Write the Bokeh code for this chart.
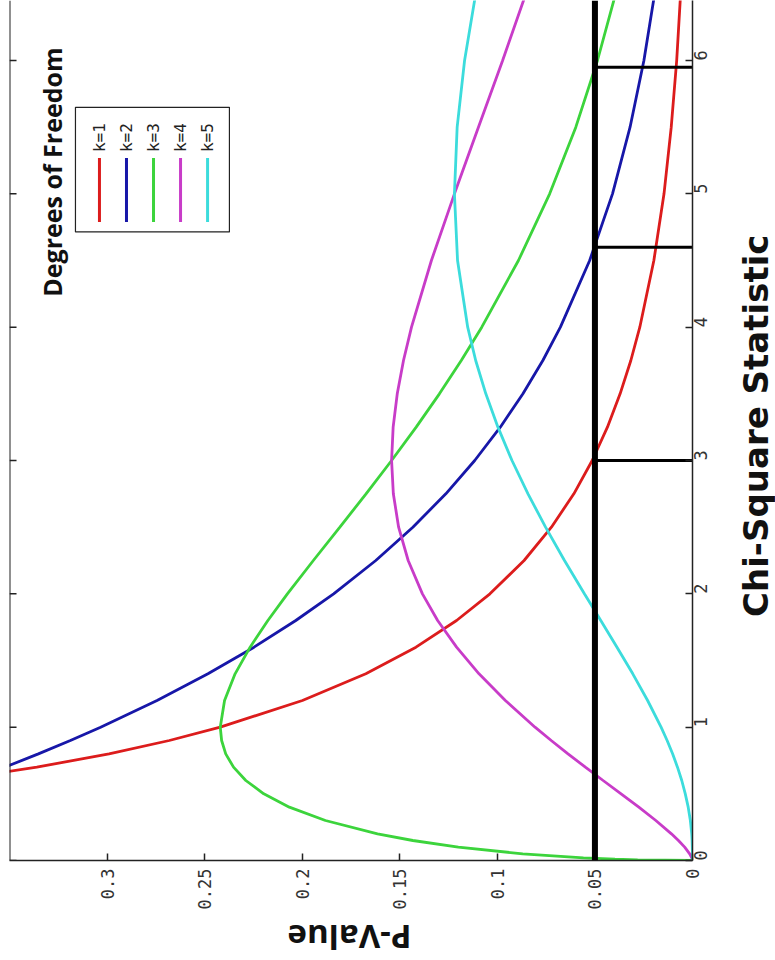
import math
from bokeh.plotting import figure
from bokeh.layouts import column, row
from bokeh.models import Range1d, LinearAxis, FixedTicker, Span
from bokeh.embed import file_html
from bokeh.resources import INLINE
from bokeh.core.properties import value

# ---- data ----
chi = [0, 0.005, 0.01, 0.02, 0.05, 0.1, 0.15, 0.2, 0.3, 0.4,
       0.5, 0.6, 0.7, 0.8, 0.9, 1.0, 1.2, 1.4, 1.6, 1.8, 2.0,
       2.25, 2.5, 2.75, 3.0, 3.25, 3.5, 3.75, 4.0, 4.5, 5.0, 5.5, 6.0, 6.5]

pv_k1 = [5.628, 3.969, 2.793, 1.740, 1.200, 0.9556, 0.8072, 0.6269, 0.5164,
         0.4394, 0.3815, 0.3360, 0.2990, 0.2681, 0.2420, 0.1999, 0.1674, 0.1417,
         0.1209, 0.1038, 0.0863, 0.0723, 0.0608, 0.0514, 0.0436, 0.0371, 0.0316,
         0.0270, 0.0198, 0.0146, 0.0109, 0.0081, 0.0061]
pv_k2 = [0.5, 0.4988, 0.4975, 0.4950, 0.4877, 0.4756, 0.4639, 0.4524, 0.4304, 0.4094,
         0.3894, 0.3704, 0.3523, 0.3352, 0.3188, 0.3033, 0.2744, 0.2483, 0.2247, 0.2033,
         0.1839, 0.1623, 0.1433, 0.1264, 0.1116, 0.0985, 0.0869, 0.0767, 0.0677, 0.0527,
         0.0410, 0.0320, 0.0249, 0.0194]
pv_k3 = [0, 0.0281, 0.0397, 0.0559, 0.0870, 0.1200, 0.1433, 0.1614, 0.1881, 0.2066,
         0.2197, 0.2289, 0.2352, 0.2392, 0.2413, 0.2420, 0.2398, 0.2344, 0.2267, 0.2176,
         0.2076, 0.1943, 0.1807, 0.1673, 0.1542, 0.1416, 0.1297, 0.1185, 0.1080, 0.0892,
         0.0732, 0.0598, 0.0487, 0.0394]
pv_k4 = [0, 0.00005, 0.00013, 0.00037, 0.00145, 0.0040, 0.0072, 0.0108, 0.0188, 0.0275,
         0.0366, 0.0458, 0.0549, 0.0638, 0.0724, 0.0807, 0.0959, 0.1094, 0.1209, 0.1306,
         0.1384, 0.1457, 0.1506, 0.1533, 0.1542, 0.1534, 0.1513, 0.1481, 0.1440, 0.1338,
         0.1220, 0.1097, 0.0973, 0.0854]
pv_k5 = [0, 0, 0, 0, 0.00001, 0.0001, 0.0002, 0.0004, 0.0011, 0.0022,
         0.0037, 0.0055, 0.0077, 0.0102, 0.0130, 0.0161, 0.0230, 0.0306, 0.0387, 0.0470,
         0.0554, 0.0656, 0.0753, 0.0843, 0.0925, 0.0997, 0.1059, 0.1111, 0.1152, 0.1204,
         0.1220, 0.1206, 0.1168, 0.1111]

series_labels = ["k=1", "k=2", "k=3", "k=4", "k=5"]
series_colors = ["#dc1c1c", "#1717a8", "#3cd43c", "#c83cc8", "#3cdcdc"]

alpha_level = 0.05
crit_values = [3.0, 4.6, 5.95]

p_ticks = [0, 0.05, 0.1, 0.15, 0.2, 0.25, 0.3]
p_tick_labels = ["0", "0.05", "0.1", "0.15", "0.2", "0.25", "0.3"]
chi_ticks = [0, 1, 2, 3, 4, 5, 6]
chi_tick_labels = ["0", "1", "2", "3", "4", "5", "6"]

legend_title = "Degrees of Freedom"
x_title = "Chi-Square Statistic"
y_title = "P-Value"

P_MAX = 0.35
CHI_MAX = 6.45

MAIN_W, MAIN_H = 722, 912
SIDE_W = 775 - MAIN_W
BOTTOM_H = 960 - MAIN_H

# ---- main figure ----
p = figure(width=MAIN_W, height=MAIN_H, x_range=Range1d(P_MAX, 0), y_range=Range1d(0, CHI_MAX),
           output_backend="svg", toolbar_location=None,
           x_axis_location=None, y_axis_location=None,
           min_border_left=9, min_border_right=30, min_border_top=0, min_border_bottom=50)
p.outline_line_color = None
p.background_fill_color = "white"
p.border_fill_color = "white"
p.xgrid.visible = False
p.ygrid.visible = False

tick_font = "DejaVu Sans Mono"

xa = LinearAxis(ticker=FixedTicker(ticks=p_ticks),
                major_label_overrides=dict(zip(p_ticks, p_tick_labels)))
ya = LinearAxis(ticker=FixedTicker(ticks=chi_ticks),
                major_label_overrides=dict(zip(chi_ticks, chi_tick_labels)))

for ax in (xa, ya):
    ax.axis_line_color = "#222222"
    ax.axis_line_width = 1.5
    ax.major_tick_line_color = "#222222"
    ax.major_tick_line_width = 1.5
    ax.major_tick_in = 7
    ax.major_tick_out = 0
    ax.minor_tick_line_color = None
    ax.major_label_text_font = tick_font
    ax.major_label_text_font_size = "17px"
    ax.major_label_text_color = "#333333"
    ax.major_label_orientation = math.pi / 2

xa.major_label_standoff = 8
ya.major_label_standoff = 8

p.add_layout(xa, "below")
p.add_layout(ya, "right")

# left frame border with inward ticks
p.add_layout(Span(location=P_MAX, dimension="height", line_color="#222222", line_width=2))
p.segment(x0=[P_MAX] * len(chi_ticks), y0=chi_ticks,
          x1=[P_MAX - 0.0036] * len(chi_ticks), y1=chi_ticks,
          line_color="#222222", line_width=1.5)

# ---- curves ----
all_series = [(chi[1:], pv_k1), (chi, pv_k2), (chi, pv_k3), (chi, pv_k4), (chi, pv_k5)]
for (cx, pv), col in zip(all_series, series_colors):
    p.line(x=pv, y=cx, line_color=col, line_width=2.8)

# ---- significance line and critical marks ----
p.add_layout(Span(location=alpha_level, dimension="height", line_color="black", line_width=6))
p.segment(x0=[alpha_level] * len(crit_values), y0=crit_values,
          x1=[0] * len(crit_values), y1=crit_values, line_color="black", line_width=3)

# ---- rotated legend (layout positions in axis units) ----
p.quad(left=[0.3162], right=[0.2373], top=[5.649], bottom=[4.714],
       fill_color="white", line_color="#222222", line_width=1.2)
entry_x = [0.3039 - i * 0.01385 for i in range(len(series_labels))]
p.text(x=entry_x, y=[5.313] * len(series_labels), text=series_labels, angle=math.pi / 2,
       text_font=value(tick_font), text_font_size="16px", text_align="left",
       text_baseline="middle", text_color="#222222")
p.segment(x0=entry_x, y0=[4.789] * 5, x1=entry_x, y1=[5.268] * 5,
          line_color=series_colors, line_width=3)
p.text(x=[0.328], y=[4.228], text=[legend_title], angle=math.pi / 2,
       text_font=value("Open Sans"), text_font_style="bold", text_font_size="25px",
       text_align="left", text_baseline="middle", text_color="#111111")


def title_strip(w, h):
    f = figure(width=w, height=h, x_range=Range1d(0, w), y_range=Range1d(0, h),
               output_backend="svg", toolbar_location=None,
               x_axis_location=None, y_axis_location=None, min_border=0)
    f.outline_line_color = None
    f.background_fill_color = "white"
    f.border_fill_color = "white"
    f.xgrid.visible = False
    f.ygrid.visible = False
    return f


# ---- axis titles, rotated like the reference ----
side = title_strip(SIDE_W, MAIN_H)
side.text(x=[755 - MAIN_W], y=[MAIN_H - 451], text=[x_title], angle=math.pi / 2,
          text_font=value("DejaVu Sans"), text_font_style="bold", text_font_size="34px",
          text_align="center", text_baseline="middle", text_color="#111111")

bottom = title_strip(775, BOTTOM_H)
bottom.text(x=[349], y=[960 - 937], text=[y_title], angle=math.pi,
            text_font=value("Open Sans"), text_font_style="bold", text_font_size="33px",
            text_align="center", text_baseline="middle", text_color="#111111")

layout = column(row(p, side, spacing=0), bottom, spacing=0)

open("out.html", "w").write(file_html(layout, INLINE))
